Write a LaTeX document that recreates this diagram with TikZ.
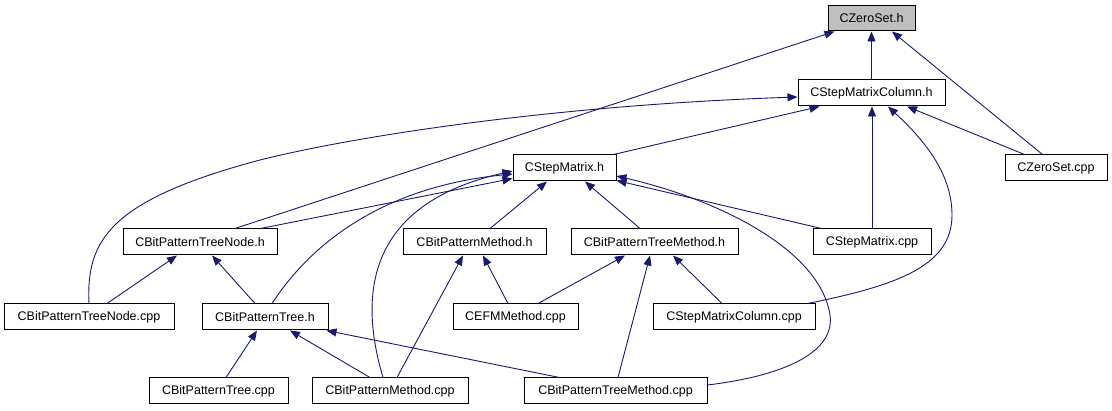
\documentclass[tikz,border=0pt]{standalone}
\usepackage{fontspec}
\setmainfont{Liberation Sans}
\usetikzlibrary{arrows.meta}
\definecolor{cedge}{HTML}{191970}
\definecolor{cfocus}{HTML}{BFBFBF}
\tikzset{
  every picture/.style={line width=1pt},
  file/.style={draw=black, fill=white, minimum width=#1, minimum height=26pt, inner sep=0pt, font=\fontsize{12.5}{14}\selectfont},
  file/.default=100pt,
  focus/.style={file=#1, fill=cfocus, minimum height=25pt},
  dep/.style={-{Triangle[length=10pt, width=8pt]}, draw=cedge, line width=0.9pt},
}

\begin{document}
\begin{tikzpicture}[x=1pt, y=-1pt]
  \useasboundingbox (0,0) rectangle (1112,411);
  % headers
  \node[focus=87pt] (zsh) at (871.5,18.5) {CZeroSet.h};
  \node[file=147pt] (smch) at (871.5,93) {CStepMatrixColumn.h};
  \node[file=102pt] (zscpp) at (1056,168) {CZeroSet.cpp};
  \node[file=103pt] (smh) at (564.5,168) {CStepMatrix.h};
  \node[file=154pt] (bptnh) at (200,242) {CBitPatternTreeNode.h};
  \node[file=143pt] (bpmh) at (474.5,242) {CBitPatternMethod.h};
  \node[file=167pt] (bptmh) at (654.5,242) {CBitPatternTreeMethod.h};
  \node[file=118pt] (smcpp) at (872,242) {CStepMatrix.cpp};
  \node[file=170pt] (bptncpp) at (89,317) {CBitPatternTreeNode.cpp};
  \node[file=126pt] (bpth) at (265,317) {CBitPatternTree.h};
  \node[file=125pt] (efmcpp) at (515.5,317) {CEFMMethod.cpp};
  \node[file=162pt] (smccpp) at (734,317) {CStepMatrixColumn.cpp};
  \node[file=139pt] (bptcpp) at (218.5,391) {CBitPatternTree.cpp};
  \node[file=156pt] (bpmcpp) at (390,391) {CBitPatternMethod.cpp};
  \node[file=183pt] (bptmcpp) at (615.5,391) {CBitPatternTreeMethod.cpp};
  % into CZeroSet.h
  \draw[dep] (smch.north) -- (zsh.south);
  \draw[dep] ([xshift=38pt]zscpp.north west) -- ([xshift=20.5pt]zsh.south);
  \draw[dep] ([xshift=35pt]bptnh.north) -- ([xshift=7pt]zsh.south west);
  % into CStepMatrixColumn.h
  \draw[dep] ([xshift=20pt]zscpp.north west) -- ([xshift=35.5pt]smch.south);
  \draw[dep] ([xshift=-3pt]smh.north east) -- ([xshift=22pt]smch.south west);
  \draw[dep] (smcpp.north) -- (smcpp.north |- smch.south);
  \draw[dep] (bptncpp.north) .. controls (86,240) and (110,200) .. (260,160)
    .. controls (360,135) and (560,105) .. ([yshift=-4pt]smch.west);
  \draw[dep] ([xshift=-8pt]smccpp.north east) .. controls (900,285) and (952,265) .. (952,215)
    .. controls (952,172) and (922,138) .. ([xshift=16.5pt]smch.south);
  % into CStepMatrix.h
  \draw[dep] ([xshift=-17pt]bptnh.north east) -- ([yshift=3pt]smh.south west);
  \draw[dep] ([xshift=7pt]bpth.north) .. controls (320,230) and (400,185) .. ([yshift=-6pt]smh.west);
  \draw[dep] ([xshift=-7pt]bpmcpp.north) .. controls (360,300) and (362,205) .. ([yshift=-3pt]smh.west);
  \draw[dep] ([xshift=15.5pt]bpmh.north) -- ([xshift=-17.5pt]smh.south);
  \draw[dep] ([xshift=-14.5pt]bptmh.north) -- ([xshift=20.5pt]smh.south);
  \draw[dep] ([xshift=9pt]smcpp.north west) -- ([yshift=1pt]smh.south east);
  \draw[dep] ([yshift=6pt]bptmcpp.east) .. controls (790,375) and (835,350) .. (830,315)
    .. controls (820,250) and (720,200) .. ([yshift=-8pt]smh.east);
  % lower levels
  \draw[dep] ([xshift=-10pt]bpth.north) -- ([xshift=12pt]bptnh.south);
  \draw[dep] ([xshift=18pt]bptncpp.north) -- ([xshift=-23pt]bptnh.south);
  \draw[dep] ([xshift=7.5pt]bptcpp.north) -- ([xshift=-8pt]bpth.south);
  \draw[dep] ([xshift=-20pt]bpmcpp.north) -- ([xshift=25pt]bpth.south);
  \draw[dep] ([xshift=36pt]bptmcpp.north west) -- ([xshift=-2pt]bpth.south east);
  \draw[dep] ([xshift=7pt]bpmcpp.north) -- ([xshift=-11.5pt]bpmh.south);
  \draw[dep] ([xshift=-7.5pt]efmcpp.north) -- ([xshift=8.5pt]bpmh.south);
  \draw[dep] ([xshift=22.5pt]efmcpp.north) -- ([xshift=-29.5pt]bptmh.south);
  \draw[dep] ([xshift=2.5pt]bptmcpp.north) -- ([xshift=-4.5pt]bptmh.south);
  \draw[dep] ([xshift=-12pt]smccpp.north) -- ([xshift=18.5pt]bptmh.south);
\end{tikzpicture}
\end{document}
